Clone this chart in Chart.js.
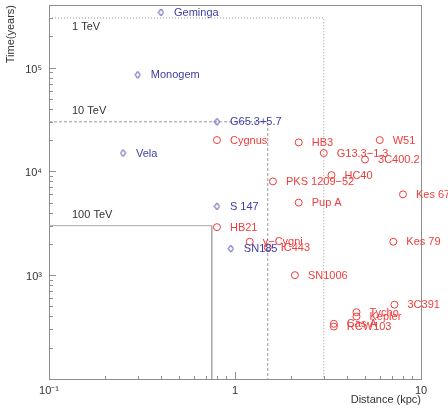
<!DOCTYPE html>
<html>
<head>
<meta charset="utf-8">
<script src="https://cdn.jsdelivr.net/npm/chart.js@4.4.1/dist/chart.umd.min.js"></script>
<style>
  html, body { margin: 0; padding: 0; background: #fff; }
  #wrap { width: 448px; height: 411px; }
</style>
</head>
<body>
<div id="wrap"><canvas id="c" width="448" height="411"></canvas></div>
<script>
// Pulsars (blue diamonds): name, distance (kpc), age (years)
const pulsarNames = ['Geminga', 'Monogem', 'G65.3+5.7', 'Vela', 'S 147', 'SN185'];
const pulsarDist  = [0.40, 0.30, 0.80, 0.25, 0.80, 0.95];
const pulsarAge   = [3.4e5, 8.5e4, 3.0e4, 1.5e4, 4.6e3, 1.8e3];

// Supernova remnants (red circles)
const snrNames = ['Cygnus', 'HB3', 'W51', 'G13.3\u22121.3', '3C400.2', 'HC40', 'PKS 1209\u221252',
                  'Kes 67', 'Pup A', 'HB21', '\u03b3\u2212Cygni', 'IC443', 'Kes 79', 'SN1006',
                  '3C391', 'Tycho', 'Kepler', 'Cas A', 'RCW103'];
const snrDist  = [0.8, 2.2, 6.0, 3.0, 5.0, 3.3, 1.6, 8.0, 2.2, 0.8, 1.2, 1.5, 7.1, 2.1,
                  7.2, 4.5, 4.5, 3.4, 3.4];
const snrAge   = [2.0e4, 1.9e4, 2.0e4, 1.5e4, 1.3e4, 9.2e3, 8.0e3, 6.0e3, 5.0e3, 2.9e3, 2.1e3, 1.85e3, 2.1e3, 1.0e3,
                  5.2e2, 4.4e2, 4.0e2, 3.4e2, 3.2e2];

// Energy horizons: (max distance, max age) for each electron energy
const horizonLabels = ['1 TeV', '10 TeV', '100 TeV'];
const horizonDist   = [3.0, 1.5, 0.75];
const horizonAge    = [3.0e5, 3.0e4, 3.0e3];

// Axis ranges and labelled ticks
const xRange = [0.1, 10];
const yRange = [100, 4.0e5];
const xTickValues = [0.1, 1, 10];
const xTickLabels = ['10\u207b\u00b9', '1', '10'];
const yTickValues = [1e3, 1e4, 1e5];
const yTickLabels = ['10\u00b3', '10\u2074', '10\u2075'];

const RED = '#f03c3c';
const BLUE = '#3c3ca8';
const GRAY = '#8e8e8e';
const FONT = '"Liberation Sans", Arial, sans-serif';

// open diamond marker, a little taller than wide
function diamondMarker(color) {
  const cv = document.createElement('canvas');
  cv.width = 7; cv.height = 9;
  const g = cv.getContext('2d');
  g.strokeStyle = color; g.lineWidth = 1;
  g.beginPath();
  g.moveTo(3.5, 1); g.lineTo(6, 4.5); g.lineTo(3.5, 8); g.lineTo(1, 4.5); g.closePath();
  g.stroke();
  return cv;
}

const horizonStyles = [
  { dash: [1, 2], color: '#9a9a9a' },
  { dash: [3, 2], color: '#9a9a9a' },
  { dash: [],     color: '#aaaaaa' }
];
const horizonSets = horizonLabels.map((lab, i) => ({
  label: lab,
  type: 'line',
  data: [{ x: xRange[0], y: horizonAge[i] }, { x: horizonDist[i], y: horizonAge[i] }, { x: horizonDist[i], y: yRange[0] }],
  borderColor: horizonStyles[i].color,
  borderDash: horizonStyles[i].dash,
  borderWidth: 1,
  pointRadius: 0,
  fill: false,
  tension: 0,
  order: 3
}));

const snrSet = {
  label: 'SNR',
  data: snrDist.map((d, i) => ({ x: d, y: snrAge[i] })),
  names: snrNames,
  textColor: RED,
  pointStyle: 'circle',
  pointRadius: 3.5,
  borderColor: RED,
  borderWidth: 1,
  backgroundColor: 'rgba(0,0,0,0)',
  order: 2
};
const pulsarSet = {
  label: 'Pulsar',
  data: pulsarDist.map((d, i) => ({ x: d, y: pulsarAge[i] })),
  names: pulsarNames,
  textColor: BLUE,
  pointStyle: diamondMarker(BLUE),
  pointRadius: 4,
  borderColor: BLUE,
  backgroundColor: 'rgba(0,0,0,0)',
  order: 1
};

// frame, inward tick marks, horizon captions and point names
const decorPlugin = {
  id: 'decor',
  beforeDatasetsDraw(chart) {
    const { ctx, chartArea: a, scales: { x, y } } = chart;
    ctx.save();
    ctx.strokeStyle = GRAY;
    ctx.lineWidth = 1;
    ctx.strokeRect(Math.round(a.left) + 0.5, Math.round(a.top) + 0.5,
                   Math.round(a.right - a.left), Math.round(a.bottom - a.top));
    ctx.beginPath();
    for (let d = 0.1; d <= 10; d *= 10) {
      for (let m = 1; m <= 9; m++) {
        const v = m * d;
        if (v < xRange[0] * 0.999 || v > xRange[1] * 1.001) continue;
        const px = Math.round(x.getPixelForValue(v)) + 0.5;
        const len = m === 1 ? 7 : 3;
        ctx.moveTo(px, a.bottom); ctx.lineTo(px, a.bottom - len);
      }
    }
    for (let d = 100; d <= 1e5; d *= 10) {
      for (let m = 1; m <= 9; m++) {
        const v = m * d;
        if (v < yRange[0] * 0.999 || v > yRange[1] * 1.001) continue;
        const py = Math.round(y.getPixelForValue(v)) + 0.5;
        const len = m === 1 ? 7 : 4;
        ctx.moveTo(a.left, py); ctx.lineTo(a.left + len, py);
      }
    }
    ctx.stroke();

    ctx.fillStyle = '#333';
    ctx.font = '11px ' + FONT;
    ctx.textAlign = 'left';
    ctx.textBaseline = 'middle';
    const capX = a.left + 23;
    horizonLabels.forEach((lab, i) => {
      const py = y.getPixelForValue(horizonAge[i]);
      const dy = i === 0 ? 9 : -11;
      ctx.fillText(lab, capX, py + dy);
    });
    ctx.restore();
  },
  afterDatasetsDraw(chart) {
    const { ctx } = chart;
    ctx.save();
    ctx.font = '11px ' + FONT;
    ctx.textAlign = 'left';
    ctx.textBaseline = 'middle';
    chart.data.datasets.forEach((ds, di) => {
      if (!ds.names) return;
      const meta = chart.getDatasetMeta(di);
      ctx.fillStyle = ds.textColor;
      meta.data.forEach((pt, i) => {
        ctx.fillText(ds.names[i], pt.x + 13, pt.y + 0.5);
      });
    });
    ctx.restore();
  }
};

new Chart(document.getElementById('c'), {
  type: 'scatter',
  data: { datasets: [...horizonSets, snrSet, pulsarSet] },
  options: {
    responsive: false,
    animation: false,
    devicePixelRatio: 1,
    layout: { padding: { top: 5, right: 27, left: 0, bottom: 0 } },
    plugins: { legend: { display: false }, tooltip: { enabled: false } },
    scales: {
      x: {
        type: 'logarithmic',
        min: xRange[0], max: xRange[1],
        grid: { display: false, drawTicks: false, tickLength: 0 },
        border: { display: false },
        afterBuildTicks: s => { s.ticks = xTickValues.map(v => ({ value: v })); },
        afterFit: s => { s.height = 32; s.paddingLeft = 0; s.paddingRight = 0; },
        ticks: {
          autoSkip: false, maxRotation: 0, padding: 5,
          color: '#333', font: { family: FONT, size: 11 },
          callback: (v) => { const k = xTickValues.indexOf(v); return k >= 0 ? xTickLabels[k] : ''; }
        },
        title: {
          display: true, text: 'Distance (kpc)', align: 'end',
          color: '#333', font: { family: FONT, size: 11 }, padding: { top: 0, bottom: 4 }
        }
      },
      y: {
        type: 'logarithmic',
        min: yRange[0], max: yRange[1],
        grid: { display: false, drawTicks: false, tickLength: 0 },
        border: { display: false },
        afterBuildTicks: s => { s.ticks = yTickValues.map(v => ({ value: v })); },
        afterFit: s => { s.width = 49; s.paddingTop = 0; s.paddingBottom = 0; },
        ticks: {
          autoSkip: false, padding: 7, labelOffset: 2,
          color: '#333', font: { family: FONT, size: 11 },
          callback: (v) => { const k = yTickValues.indexOf(v); return k >= 0 ? yTickLabels[k] : ''; }
        },
        title: {
          display: true, text: 'Time(years)', align: 'end',
          color: '#333', font: { family: FONT, size: 11 }, padding: { top: 4, bottom: 4 }
        }
      }
    }
  },
  plugins: [decorPlugin]
});
</script>
</body>
</html>
